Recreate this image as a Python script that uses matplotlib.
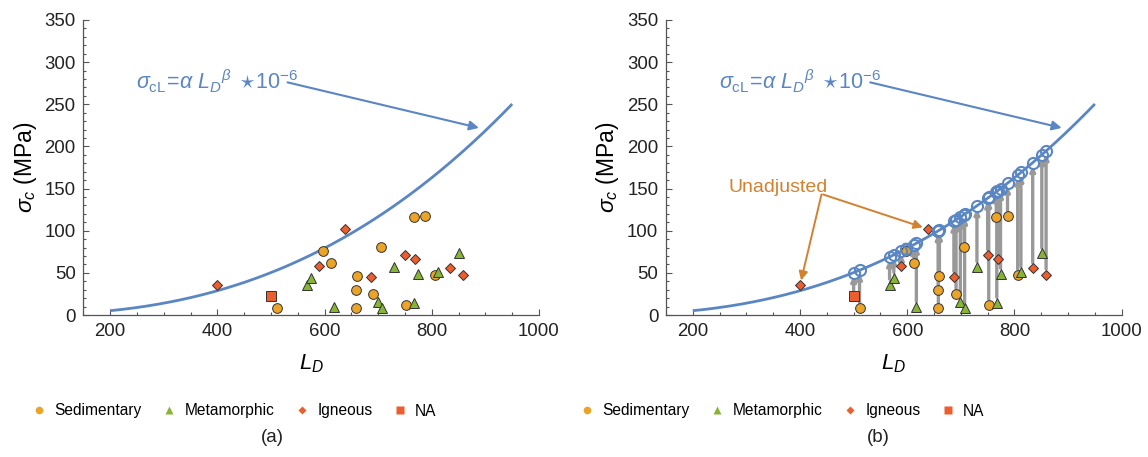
import numpy as np
import matplotlib
matplotlib.use("Agg")
import matplotlib.pyplot as plt
from matplotlib.lines import Line2D

plt.rcParams['font.family'] = ['Liberation Sans', 'DejaVu Sans']
plt.rcParams['mathtext.fontset'] = 'custom'
plt.rcParams['mathtext.rm'] = 'Liberation Sans'
plt.rcParams['mathtext.it'] = 'Liberation Sans:italic'
plt.rcParams['mathtext.bf'] = 'Liberation Sans:bold'

# ---------------- data ----------------
ALPHA = 9.0
BETA = 2.5
curve_L = [200, 950]

sed_L = [511, 598, 612, 658, 658, 660, 691, 706, 752, 766, 787, 806]
sed_s = [8, 76, 62, 8, 30, 46, 25, 81, 12, 116, 117, 47.5]

met_L = [567, 575, 617, 699, 707, 730, 767, 774, 812, 851]
met_s = [36, 44, 9.5, 16, 8, 57, 14.5, 49, 51, 73]

ign_L = [400, 589, 639, 687, 750, 769, 834, 859]
ign_s = [36, 58, 102, 45, 71, 66, 55.5, 48]

na_L = [500]
na_s = [22]

legend_labels = ['Sedimentary', 'Metamorphic', 'Igneous', 'NA']
x_ticks = [200, 400, 600, 800, 1000]
y_ticks = [0, 50, 100, 150, 200, 250, 300, 350]

# ---------------- style ----------------
C_SED = '#EBA427'
C_MET = '#86B536'
C_IGN = '#EC5E2E'
C_NA = '#EC5E2E'
C_CURVE = '#5B86C4'
C_GRAY = '#999999'
C_ORANGE = '#D4812F'
C_AX = '#555555'


def crit(L):
    return ALPHA * np.asarray(L, dtype=float) ** BETA * 1e-6


W, H = 1148, 457
fig = plt.figure(figsize=(W / 100, H / 100), dpi=100)
ax_a = fig.add_axes([83.3 / W, (H - 315) / H, 455.7 / W, 295 / H])
ax_b = fig.add_axes([666 / W, (H - 315) / H, 455.7 / W, 295 / H])

series = [
    (sed_L, sed_s, 'o', C_SED, 7.0),
    (met_L, met_s, '^', C_MET, 7.6),
    (ign_L, ign_s, 'D', C_IGN, 5.6),
    (na_L, na_s, 's', C_NA, 7.6),
]

formula = r'$\sigma_{\mathrm{cL}}\!=\!\alpha\ L_D{}^{\beta}\ \star\!10^{-6}$'

for ax in (ax_a, ax_b):
    Ls = np.linspace(curve_L[0], curve_L[1], 300)
    ax.plot(Ls, crit(Ls), color=C_CURVE, lw=2.0, zorder=2, solid_capstyle='butt')
    ax.set_xlim(150, 1000)
    ax.set_ylim(0, 350)
    ax.set_xticks(x_ticks)
    ax.set_yticks(y_ticks)
    ax.set_xticks(np.arange(150, 1001, 50), minor=True)
    ax.set_yticks(np.arange(0, 351, 10), minor=True)
    ax.tick_params(which='both', direction='in', colors=C_AX, labelcolor='#222222',
                   labelsize=13.4, width=0.8)
    ax.tick_params(which='major', length=4.5)
    ax.tick_params(which='minor', length=2.5)
    ax.tick_params(axis='x', pad=6)
    ax.tick_params(axis='y', pad=5.5)
    for sp in ('top', 'right'):
        ax.spines[sp].set_visible(False)
    for sp in ('left', 'bottom'):
        ax.spines[sp].set_color(C_AX)
        ax.spines[sp].set_linewidth(0.9)
    ax.set_xlabel(r'$L_D$', fontsize=16, labelpad=9)
    ax.set_ylabel(r'$\sigma_c$ (MPa)', fontsize=16.5, labelpad=4)
    ax.patch.set_alpha(0)

    ax.annotate('', xy=(888, 222), xytext=(531, 276),
                arrowprops=dict(arrowstyle='-|>', color=C_CURVE, lw=1.5,
                                mutation_scale=14, shrinkA=0, shrinkB=0))
    ax.text(248, 277, formula, color=C_CURVE, fontsize=15.5, va='center', ha='left')

# panel (a) markers
for Lx, sy, mk, col, ms in series:
    ax_a.plot(Lx, sy, ls='none', marker=mk, color=col, ms=ms, mec='#333333',
              mew=0.7, zorder=4)

# panel (b): adjustment arrows
allL = sed_L + met_L + ign_L + na_L
alls = sed_s + met_s + ign_s + na_s
adjL = []
for Lx, sy in zip(allL, alls):
    top = float(crit(Lx))
    if sy < top:
        adjL.append(Lx)
        ax_b.annotate('', xy=(Lx, top - 4), xytext=(Lx, sy),
                      arrowprops=dict(arrowstyle='-|>', color=C_GRAY, lw=2.4,
                                      mutation_scale=7, shrinkA=4, shrinkB=0),
                      zorder=3)

for Lx, sy, mk, col, ms in series:
    ax_b.plot(Lx, sy, ls='none', marker=mk, color=col, ms=ms, mec='#333333',
              mew=0.7, zorder=4)

ax_b.plot(adjL, crit(adjL), ls='none', marker='o', ms=8, mfc='none',
          mec=C_CURVE, mew=1.5, zorder=5)

# Unadjusted annotations
ax_b.text(267, 151, 'Unadjusted', color=C_ORANGE, fontsize=14, va='center', ha='left')
ax_b.annotate('', xy=(402, 41), xytext=(440, 143),
              arrowprops=dict(arrowstyle='-|>', color=C_ORANGE, lw=1.4,
                              mutation_scale=13, shrinkA=0, shrinkB=0))
ax_b.annotate('', xy=(629, 104), xytext=(443, 143),
              arrowprops=dict(arrowstyle='-|>', color=C_ORANGE, lw=1.4,
                              mutation_scale=13, shrinkA=0, shrinkB=0))

# legends
handles = [
    Line2D([], [], ls='none', marker='o', color=C_SED, ms=5.5, mec='none'),
    Line2D([], [], ls='none', marker='^', color=C_MET, ms=6, mec='none'),
    Line2D([], [], ls='none', marker='D', color=C_IGN, ms=4.5, mec='none'),
    Line2D([], [], ls='none', marker='s', color=C_NA, ms=6, mec='none'),
]
for cx in (234 / W, 782 / W):
    fig.legend(handles, legend_labels, loc='center', bbox_to_anchor=(cx, 1 - 411 / H),
               ncol=4, frameon=False, fontsize=11.2, handlelength=1.0,
               handletextpad=0.5, columnspacing=1.25, borderaxespad=0)

fig.text(272 / W, 1 - 438 / H, '(a)', ha='center', va='center', fontsize=13.5, color='#222222')
fig.text(878 / W, 1 - 438 / H, '(b)', ha='center', va='center', fontsize=13.5, color='#222222')

fig.savefig('out.png', dpi=100)
